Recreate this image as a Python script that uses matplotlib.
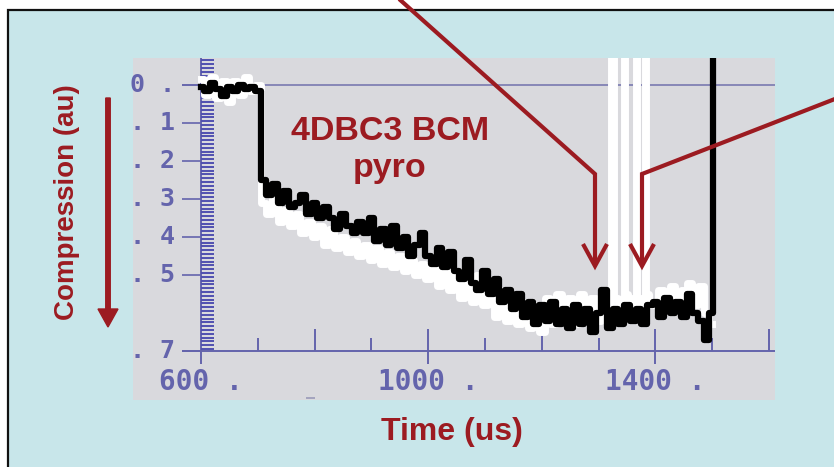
import numpy as np
import matplotlib.pyplot as plt
from matplotlib.patches import Rectangle

# pyro traces: time (us) vs compression (au)
black_t = list(range(600, 1510, 10)) + [1502]
black_v = [-0.005, -0.015, 0.005, -0.01, -0.03, -0.005, -0.015, 0.0, -0.01, -0.005, -0.015,
           -0.25, -0.29, -0.26, -0.31, -0.28, -0.32, -0.31, -0.29, -0.34, -0.31,
           -0.35, -0.32, -0.35, -0.38, -0.34, -0.37, -0.39, -0.36, -0.39, -0.35,
           -0.41, -0.38, -0.42, -0.37, -0.43, -0.40, -0.45, -0.42, -0.39, -0.45,
           -0.47, -0.43, -0.48, -0.44, -0.49, -0.51, -0.46, -0.52, -0.54, -0.49,
           -0.55, -0.51, -0.57, -0.54, -0.59, -0.55, -0.61, -0.57, -0.63, -0.58,
           -0.62, -0.57, -0.63, -0.59, -0.64, -0.58, -0.63, -0.59, -0.65, -0.60,
           -0.54, -0.64, -0.59, -0.63, -0.58, -0.62, -0.59, -0.63, -0.58, -0.57,
           -0.61, -0.56, -0.60, -0.57, -0.61, -0.55, -0.60, -0.62, -0.67, -0.60,
           0.30]

white_t = (list(range(600, 1330, 10))
           + [1325, 1330, 1340, 1343, 1345, 1347, 1355, 1364, 1366, 1368,
              1376, 1381, 1383, 1385, 1392]
           + list(range(1400, 1510, 10)))
white_v = [0.015, -0.025, 0.02, -0.035, 0.01, -0.045, 0.01, -0.025, 0.02, -0.015, 0.0,
           -0.31, -0.34, -0.30, -0.36, -0.33, -0.37, -0.34, -0.39, -0.36, -0.40,
           -0.37, -0.42, -0.38, -0.43, -0.40, -0.44, -0.41, -0.45, -0.42, -0.46,
           -0.43, -0.47, -0.44, -0.48, -0.45, -0.49, -0.46, -0.50, -0.47, -0.51,
           -0.48, -0.53, -0.49, -0.54, -0.50, -0.56, -0.52, -0.57, -0.50, -0.58,
           -0.53, -0.61, -0.54, -0.62, -0.56, -0.63, -0.57, -0.64, -0.58, -0.65,
           -0.56, -0.63, -0.55, -0.62, -0.56, -0.63, -0.55, -0.61, -0.56, -0.62,
           -0.55, -0.58,
           0.30, -0.56, -0.60, -0.58, 0.30, -0.55, -0.59, -0.56, 0.30, -0.60,
           -0.56, -0.58, 0.30, -0.55, -0.58,
           -0.57, -0.54, -0.58, -0.53, -0.57, -0.54, -0.52, -0.58, -0.53, -0.60, -0.63]

ytick_vals = [0, -0.1, -0.2, -0.3, -0.4, -0.5, -0.7]
ytick_labels = ['0 .', '. 1', '. 2', '. 3', '. 4', '. 5', '. 7']
xtick_vals = [600, 1000, 1400]
xtick_labels = ['600 .', '1000 .', '1400 .']
xtick_tall = [800, 1200, 1600]
xtick_short = [700, 900, 1100, 1300, 1500]

RED = '#9c1b21'
PURPLE = '#6464ac'
BLUE_BG = '#c8e6ea'
GRAY = '#d9d9dd'

fig = plt.figure(figsize=(8.34, 4.67), dpi=100)
W, H = 834, 467

# backdrop panel
bg = fig.add_axes([0, 0, 1, 1], zorder=0)
bg.set_xlim(0, W)
bg.set_ylim(H, 0)
bg.axis('off')
bg.add_patch(Rectangle((8, 10), W + 10, H + 10, facecolor=BLUE_BG,
                       edgecolor='#111111', lw=1.6))

# scope plot
ax = fig.add_axes([133 / W, (H - 400) / H, 642 / W, 342 / H], zorder=1)
ax.set_facecolor(GRAY)
ax.set_xlim(480.3, 1610.6)
ax.set_ylim(-0.829, 0.0711)
for s in ax.spines.values():
    s.set_visible(False)
ax.set_xticks([])
ax.set_yticks([])

ax.hlines(0, 566, 1611, color='#7a7ab0', lw=1.2, zorder=1)
ax.hlines(-0.7, 566, 1611, color=PURPLE, lw=1.4, zorder=1)
ax.vlines(600, -0.735, 0.0711, color=PURPLE, lw=1.4, zorder=1)
ax.hlines(ytick_vals, 566, 600, color=PURPLE, lw=1.2, zorder=1)
rungs = np.arange(-0.695, 0.07, 0.01)
ax.hlines(rungs, 600, 623, color='#5050b0', lw=1.4, zorder=1)
ax.vlines(xtick_tall, -0.7, -0.642, color=PURPLE, lw=1.4, zorder=1)
ax.vlines(xtick_vals[1:], -0.734, -0.642, color=PURPLE, lw=1.4, zorder=1)
ax.vlines(xtick_short, -0.7, -0.666, color=PURPLE, lw=1.4, zorder=1)
ax.hlines(-0.825, 785, 800, color='#9a9ab8', lw=1.2, zorder=1)

ax.plot(white_t, white_v, color='white', lw=5, drawstyle='steps-mid', zorder=2)
ax.plot(black_t, black_v, color='black', lw=4.5, drawstyle='steps-mid', zorder=3)

mono = dict(family='DejaVu Sans Mono', weight='bold', color=PURPLE)
for v, lab in zip(ytick_vals, ytick_labels):
    ax.text(554, v, lab, ha='right', va='center', fontsize=18, **mono)
for v, lab in zip(xtick_vals, xtick_labels):
    ax.text(v, -0.745, lab, ha='center', va='top', fontsize=20, **mono)

# annotations in pixel space
ov = fig.add_axes([0, 0, 1, 1], zorder=3)
ov.set_xlim(0, W)
ov.set_ylim(H, 0)
ov.axis('off')
ov.patch.set_alpha(0)

bold = dict(family='Liberation Sans', weight='bold', color=RED)
ov.text(390, 140, '4DBC3 BCM', ha='center', va='baseline', fontsize=24.5, **bold)
ov.text(390, 177, 'pyro', ha='center', va='baseline', fontsize=24.5, **bold)
ov.text(452, 440, 'Time (us)', ha='center', va='baseline', fontsize=23, **bold)
ov.text(67, 202, 'Compression (au)', ha='center', va='center', rotation=90,
        fontsize=20, **bold)

ov.arrow(108, 98, 0, 229, width=4.5, head_width=20, head_length=18,
         length_includes_head=True, color=RED)

lw_arrow = 3
ov.plot([398, 595, 595], [-2, 174, 265], color=RED, lw=lw_arrow,
        solid_joinstyle='miter', solid_capstyle='butt')
ov.plot([583, 595, 607], [244, 266, 244], color=RED, lw=lw_arrow,
        solid_joinstyle='miter', solid_capstyle='butt')
ov.plot([840, 642, 642], [97, 174, 265], color=RED, lw=lw_arrow,
        solid_joinstyle='miter', solid_capstyle='butt')
ov.plot([630, 642, 654], [244, 266, 244], color=RED, lw=lw_arrow,
        solid_joinstyle='miter', solid_capstyle='butt')

fig.savefig('out.png', dpi=100)
